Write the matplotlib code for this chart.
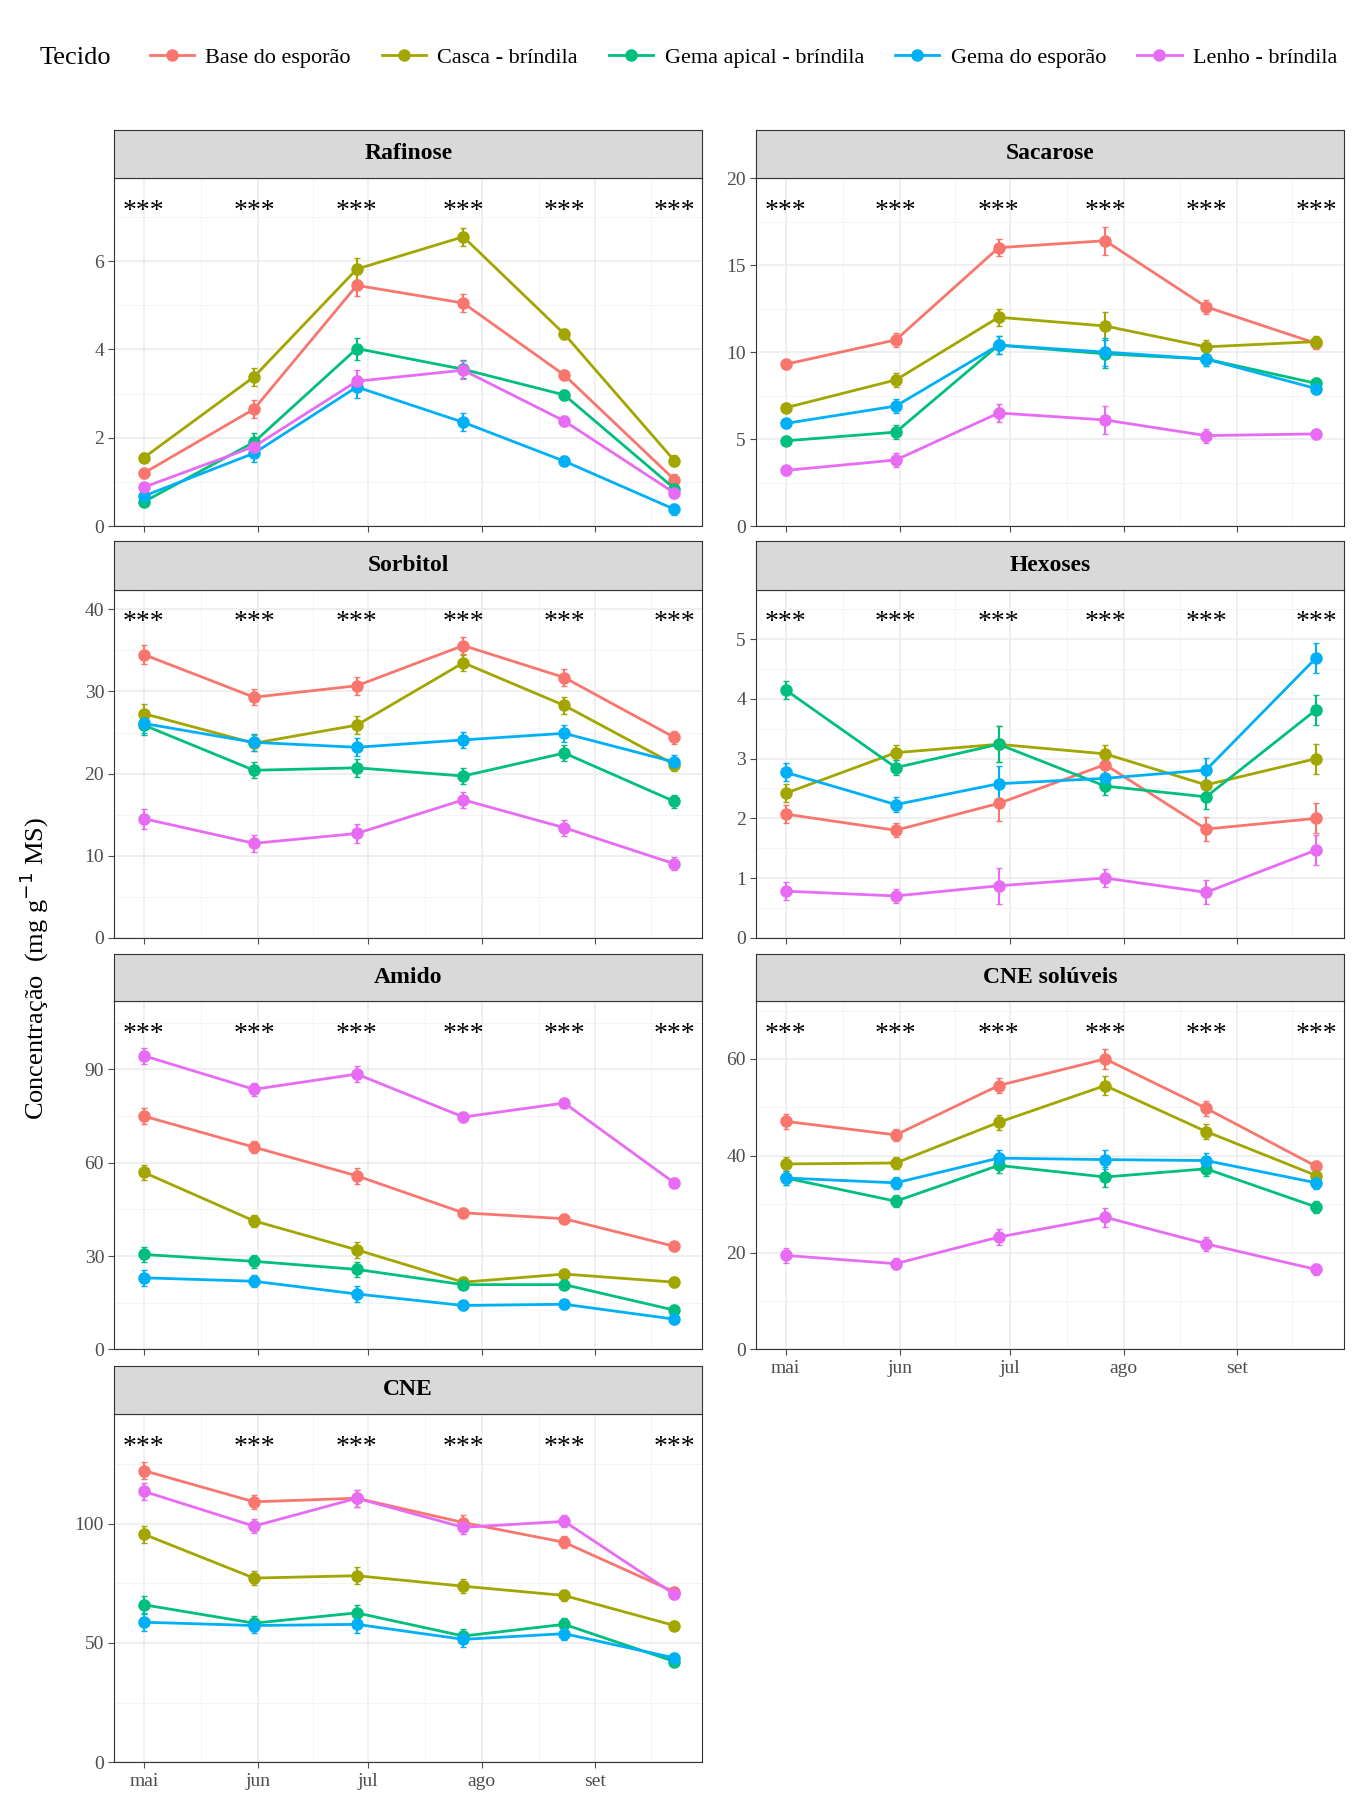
import numpy as np
import matplotlib.pyplot as plt

plt.rcParams['font.family'] = ['Liberation Serif', 'DejaVu Serif']

# sampling dates (days after 1 May)
days = [0, 30, 58, 87, 114.5, 144.5]
month_days = [0, 31, 61, 92, 123]
month_labels = ["mai", "jun", "jul", "ago", "set"]

tissues = ["Base do esporão", "Casca - bríndila", "Gema apical - bríndila",
           "Gema do esporão", "Lenho - bríndila"]
colors = ["#F8766D", "#A3A500", "#00BF7D", "#00B0F6", "#E76BF3"]

rafinose = [[1.2, 2.65, 5.45, 5.05, 3.42, 1.05],
            [1.55, 3.38, 5.82, 6.55, 4.35, 1.48],
            [0.55, 1.9, 4.02, 3.55, 2.97, 0.85],
            [0.68, 1.65, 3.15, 2.35, 1.47, 0.38],
            [0.88, 1.8, 3.28, 3.53, 2.38, 0.75]]
sacarose = [[9.3, 10.7, 16.0, 16.4, 12.6, 10.5],
            [6.8, 8.4, 12.0, 11.5, 10.3, 10.6],
            [4.9, 5.4, 10.4, 9.9, 9.6, 8.2],
            [5.9, 6.9, 10.4, 10.0, 9.6, 7.9],
            [3.2, 3.8, 6.5, 6.1, 5.2, 5.3]]
sorbitol = [[34.5, 29.3, 30.7, 35.6, 31.7, 24.4],
            [27.3, 23.7, 25.9, 33.5, 28.3, 21.1],
            [25.9, 20.4, 20.7, 19.7, 22.5, 16.6],
            [26.1, 23.8, 23.2, 24.1, 24.9, 21.4],
            [14.5, 11.5, 12.7, 16.8, 13.4, 9.0]]
hexoses = [[2.07, 1.8, 2.25, 2.9, 1.82, 2.0],
           [2.42, 3.1, 3.24, 3.08, 2.56, 3.0],
           [4.15, 2.85, 3.24, 2.54, 2.36, 3.82],
           [2.77, 2.23, 2.58, 2.67, 2.81, 4.69],
           [0.78, 0.70, 0.87, 1.0, 0.76, 1.47]]
amido = [[75, 65, 55.8, 43.9, 42, 33.1],
         [56.9, 41.3, 32, 21.6, 24.2, 21.6],
         [30.5, 28.3, 25.7, 20.8, 20.8, 12.6],
         [23, 21.9, 17.8, 14.1, 14.5, 9.7],
         [94.4, 83.6, 88.5, 74.7, 79.2, 53.5]]
cne_sol = [[47.1, 44.3, 54.5, 60, 49.8, 37.8],
           [38.3, 38.5, 46.9, 54.5, 45, 35.9],
           [35.4, 30.6, 38, 35.6, 37.3, 29.4],
           [35.4, 34.4, 39.5, 39.2, 39, 34.4],
           [19.4, 17.7, 23.2, 27.3, 21.8, 16.5]]
cne = [[122.3, 109.2, 110.7, 100.5, 92.2, 71.4],
       [95.6, 77.2, 78.2, 73.8, 69.9, 57.3],
       [66, 58.3, 62.6, 52.9, 57.8, 42.2],
       [58.7, 57.3, 57.8, 51.5, 53.9, 43.7],
       [113.6, 99, 110.7, 98.5, 101, 70.4]]

# typical standard errors per date (approx.)
err_raf = [0.1, 0.2, 0.25, 0.2, 0.12, 0.12]
err_sac = [0.25, 0.4, 0.5, 0.8, 0.4, 0.3]
err_sor = [1.2, 1.0, 1.1, 1.0, 1.0, 0.8]
err_hex = [0.15, 0.12, 0.3, 0.15, 0.2, 0.25]
err_ami = [2.5, 2, 2.5, 1.5, 1.5, 1.5]
err_cs = [1.5, 1.2, 1.6, 2, 1.5, 1.2]
err_cne = [3.5, 3, 3.5, 3, 2.5, 2]

panels = [("Rafinose", rafinose, err_raf, 7.88, [0, 2, 4, 6]),
          ("Sacarose", sacarose, err_sac, 20.0, [0, 5, 10, 15, 20]),
          ("Sorbitol", sorbitol, err_sor, 42.4, [0, 10, 20, 30, 40]),
          ("Hexoses", hexoses, err_hex, 5.83, [0, 1, 2, 3, 4, 5]),
          ("Amido", amido, err_ami, 111.9, [0, 30, 60, 90]),
          ("CNE solúveis", cne_sol, err_cs, 71.9, [0, 20, 40, 60]),
          ("CNE", cne, err_cne, 146, [0, 50, 100])]

W, H = 1176, 1568
fig = plt.figure(figsize=(13.6, 18.13), dpi=100)
cols = [(99, 607), (654, 1162)]
rows = [(112, 154, 455), (468, 510, 811), (825, 866, 1167), (1181, 1223, 1524)]

for k, (name, data, err, ytop, yt) in enumerate(panels):
    r, c = divmod(k, 2)
    x0, x1 = cols[c]
    st, pt, pb = rows[r]
    ax = fig.add_axes([x0 / W, 1 - pb / H, (x1 - x0) / W, (pb - pt) / H])
    sax = fig.add_axes([x0 / W, 1 - pt / H, (x1 - x0) / W, (pt - st) / H])
    sax.set_facecolor("#D9D9D9")
    sax.set_xticks([]); sax.set_yticks([])
    for s in sax.spines.values():
        s.set_color("#333333")
    sax.text(0.5, 0.5, name, ha="center", va="center", fontsize=17,
             fontweight="bold", transform=sax.transAxes)

    for vals, col in zip(data, colors):
        ax.errorbar(days, vals, yerr=err, color=col, marker="o", ms=8,
                    lw=2, capsize=2.5, elinewidth=1.5, zorder=3)
    for d in days:
        ax.text(d, ytop * 0.905, "***", ha="center", va="center", fontsize=20)
    ax.set_xlim(-8, 152)
    ax.set_ylim(0, ytop)
    ax.set_yticks(yt)
    step = yt[1] - yt[0]
    minor = [(a + b) / 2 for a, b in zip(yt[:-1], yt[1:])]
    if yt[-1] + step / 2 < ytop:
        minor.append(yt[-1] + step / 2)
    ax.set_yticks(minor, minor=True)
    ax.set_xticks(month_days)
    ax.set_xticks([15.5, 46, 76.5, 107.5, 138], minor=True)
    ax.grid(True, which="major", color="#EBEBEB", lw=1.1)
    ax.grid(True, which="minor", color="#F3F3F3", lw=0.6)
    ax.set_axisbelow(True)
    ax.tick_params(which="minor", length=0)
    ax.tick_params(which="major", labelsize=14, colors="#4D4D4D", length=4)
    for s in ax.spines.values():
        s.set_color("#333333")
    if name in ("CNE", "CNE solúveis"):
        ax.set_xticklabels(month_labels)
    else:
        ax.set_xticklabels([])

fig.text(30 / W, 1 - 838 / H, "Concentração  (mg g$^{-1}$ MS)", rotation=90,
         ha="center", va="center", fontsize=19)

handles = [plt.Line2D([], [], color=c, marker="o", ms=8, lw=2) for c in colors]
fig.text(34 / W, 1 - 50 / H, "Tecido", fontsize=19, va="center")
fig.legend(handles, tissues, loc="center left", bbox_to_anchor=(112 / W, 1 - 50 / H),
           ncol=5, frameon=False, fontsize=16, handlelength=2, columnspacing=1.4,
           handletextpad=0.5)

fig.savefig("out.png", dpi=100)
